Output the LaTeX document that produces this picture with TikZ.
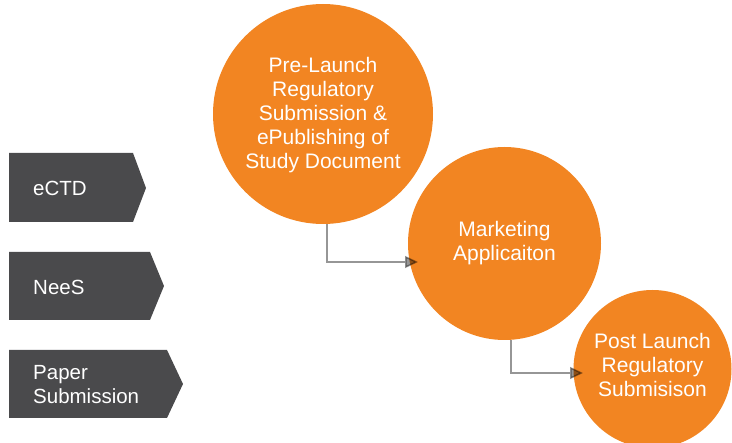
\documentclass[tikz,border=0pt]{standalone}
\usepackage{fontspec}
\setmainfont{Liberation Sans}
\usetikzlibrary{arrows.meta}
\definecolor{orng}{RGB}{242,133,34}
\definecolor{dgray}{RGB}{74,74,76}
\definecolor{lgray}{RGB}{150,150,150}
\tikzset{
  bubble/.style={circle, fill=orng, draw=none, inner sep=0pt, text=white, align=center,
    font=\fontsize{21}{24}\selectfont},
  chev/.style={fill=dgray, draw=none},
  chevtext/.style={anchor=west, text=white, align=left, inner sep=0pt,
    font=\fontsize{20.5}{24}\selectfont},
  conn/.style={draw=lgray, line width=1.5pt, -{Triangle[length=13pt,width=12pt]}},
}
\begin{document}
\begin{tikzpicture}[x=1pt,y=-1pt]
\useasboundingbox (0,0) rectangle (732,443);
\clip (0,0) rectangle (732,443);
% left chevrons
\fill[chev] (9,153) -- (133,153) -- (146,188) -- (133,222) -- (9,222) -- cycle;
\fill[chev] (9,252) -- (150,252) -- (164,286) -- (150,320) -- (9,320) -- cycle;
\fill[chev] (9,350) -- (167,350) -- (183,384) -- (167,418) -- (9,418) -- cycle;
\node[chevtext] (ectd) at (33,188) {eCTD};
\node[chevtext] (nees) at (33,287) {NeeS};
\node[chevtext] (paper) at (33,385) {Paper\\Submission};
% circles
\node[bubble, minimum size=220pt] (c1) at (323,114) {};
\node[bubble, minimum size=193pt] (c2) at (504.5,243.5) {};
\node[bubble, minimum size=158pt] (c3) at (652.5,369) {};
\node[bubble] (t1) at (323,115) {Pre-Launch\\Regulatory\\Submission \&\\ePublishing of\\Study Document};
\node[bubble] (t2) at (504.5,243) {Marketing\\Applicaiton};
\node[bubble] (t3) at (652.5,365) {Post Launch\\Regulatory\\Submisison};
% connectors
\coordinate (e1) at (418,262);
\coordinate (e2) at (583,373);
\begin{scope}[blend mode=multiply]
\draw[conn] ([xshift=4pt]c1.south) |- (e1);
\draw[conn] ([xshift=6.5pt]c2.south) |- (e2);
\end{scope}
\end{tikzpicture}
\end{document}
